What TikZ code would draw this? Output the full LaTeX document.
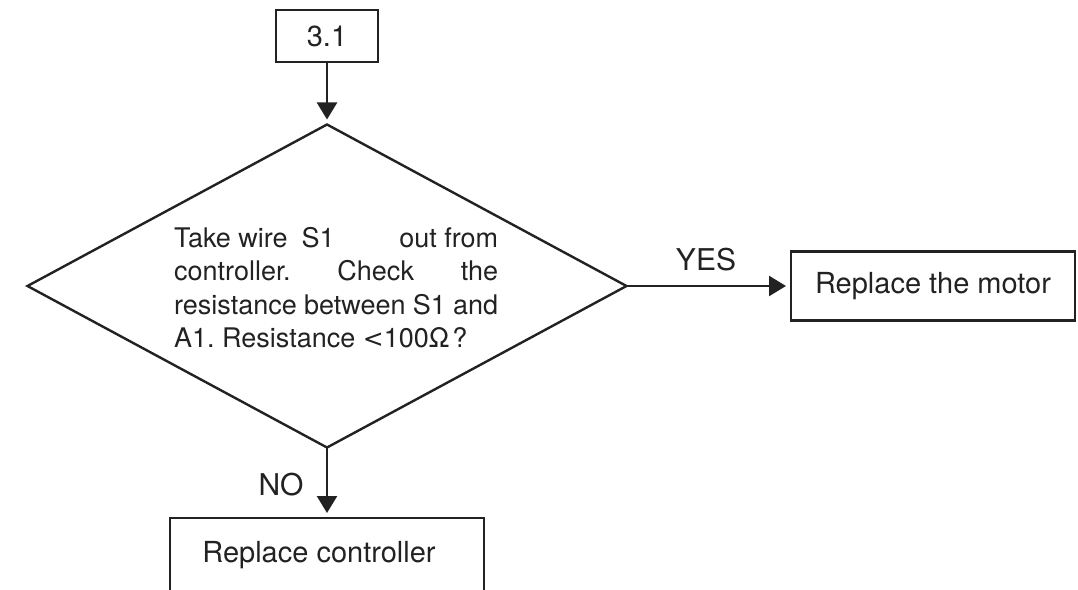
\documentclass[tikz,border=0pt]{standalone}
\usepackage{fontspec}
\setmainfont{TeX Gyre Heros}
\newfontfamily\relfont{DejaVu Sans}
\usetikzlibrary{arrows.meta,shapes.geometric}
\definecolor{ink}{RGB}{34,34,34}
\begin{document}
\frenchspacing
\begin{tikzpicture}[x=1pt,y=-1pt,
  every node/.style={text=ink},
  box/.style={draw=ink, line width=2.6pt, inner sep=0pt, outer sep=0pt,
    font=\fontsize{29}{34}\selectfont},
  decision/.style={draw=ink, line width=2.4pt, shape=diamond, inner sep=0pt,
    outer sep=0pt, minimum width=599pt, minimum height=323pt},
  flow/.style={draw=ink, line width=2.4pt,
    -{Triangle[length=17pt,width=20pt]}, shorten >=5pt},
  tag/.style={font=\fontsize{30}{35}\selectfont, inner sep=0pt},
  qtext/.style={font=\fontsize{27}{33.5}\selectfont, inner sep=0pt,
    anchor=base west}]
\useasboundingbox (0,0) rectangle (1078,589);

% boxes and the decision
\node[box, minimum width=102pt, minimum height=52pt] (start) at (327,36) {3.1};
\node[decision] (dia) at (327,286) {};
\node[qtext] (q) at (174,247) {\parbox[t]{324pt}{%
  \hbox to\linewidth{Take wire\hskip 14pt S1\hfill out from}%
  \hbox to\linewidth{controller.\hfill Check\hfill the}%
  \hbox to\linewidth{resistance between S1 and}%
  \hbox{A1. Resistance {\relfont\fontsize{25}{30}\selectfont<}100Ω\kern3pt?}}};
\node[box, minimum width=284pt, minimum height=69pt] (motor) at (933,286)
  {Replace the motor};
\node[box, minimum width=314pt, minimum height=74pt] (ctrl) at (327,555)
  {Replace controller\kern16pt};

% connectors
\draw[flow] (start) -- (dia);
\draw[flow] (dia) -- (motor);
\draw[flow] (dia) -- (ctrl);

% branch labels
\node[tag] (yes) at (706,260) {YES};
\node[tag] (no) at (281,485) {NO};
\end{tikzpicture}
\end{document}
